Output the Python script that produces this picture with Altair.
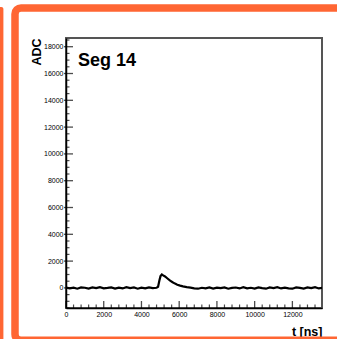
import altair as alt
import pandas as pd

# ---- data ----
t_ns = [0, 200, 400, 600, 800, 1000, 1200, 1400, 1600, 1800, 2000, 2200, 2400,
        2600, 2800, 3000, 3200, 3400, 3600, 3800, 4000, 4200, 4400, 4600, 4800,
        4880, 4950, 5010, 5080, 5150, 5250, 5380, 5520, 5650, 5780, 5900, 6050,
        6200, 6400,
        6600, 6800, 7000, 7200, 7400, 7600, 7800, 8000, 8200, 8400, 8600, 8800,
        9000, 9200, 9400, 9600, 9800, 10000, 10200, 10400, 10600, 10800, 11000,
        11200, 11400, 11600, 11800, 12000, 12200, 12400, 12600, 12800, 13000,
        13200, 13400, 13600]
adc = [30, -40, 20, -60, 40, 10, -50, 30, -20, 50, -30, 0, 40, -50, 20, -40,
       60, -10, 30, -60, 20, -30, 40, -20, 10,
       80, 550, 880, 1000, 930, 850, 700, 540, 420, 320, 240, 170, 110, 60,
       20, -30, -60, 10, -40, 30, -50, 20, -20, 40, -60, 0, 30, -40, 50, -30,
       10, -50, 40, -20, -60, 30, -10, 50, -40, 20, -30, -60, 40, 0, -50, 30,
       -20, 60, -40, 10]

x_major = [0, 2000, 4000, 6000, 8000, 10000, 12000]
x_minor = [400, 800, 1200, 1600, 2400, 2800, 3200, 3600, 4400,
           4800, 5200, 5600, 6400, 6800, 7200, 7600, 8400, 8800,
           9200, 9600, 10400, 10800, 11200, 11600, 12400, 12800, 13200]
y_major = [0, 2000, 4000, 6000, 8000, 10000, 12000, 14000, 16000, 18000]
y_minor = [-1500, -1000, -500, 500, 1000, 1500, 2500, 3000, 3500,
           4500, 5000, 5500, 6500, 7000, 7500, 8500, 9000, 9500,
           10500, 11000, 11500, 12500, 13000, 13500, 14500,
           15000, 15500, 16500, 17000, 17500, 18500]

x_domain = [0, 13570]
y_domain = [-1500, 18650]

panel_label = ["Seg 14"]
x_title = "t [ns]"
y_title = "ADC"

W, H = 256, 270
FONT = "Liberation Sans"
ORANGE = "#ff6633"
MAJ, MIN = 7, 3.5

# one table for the trace and for the tick positions
rows = [{"t": a, "adc": b, "kind": "trace"} for a, b in zip(t_ns, adc)]
rows += [{"t": x_domain[0], "adc": v, "kind": "ymaj"} for v in y_major]
rows += [{"t": x_domain[0], "adc": v, "kind": "ymin"} for v in y_minor]
rows += [{"t": v, "adc": y_domain[0], "kind": "xmaj"} for v in x_major]
rows += [{"t": v, "adc": y_domain[0], "kind": "xmin"} for v in x_minor]
df = pd.DataFrame(rows)

xs = alt.Scale(domain=x_domain, nice=False, zero=False)
ys = alt.Scale(domain=y_domain, nice=False, zero=False)

x_axis = alt.Axis(
    values=x_major, format="d", ticks=False, domain=True, domainColor="black",
    domainWidth=1.5, labelFont=FONT, labelFontSize=7, labelColor="black",
    labelPadding=2, labelFlush=False, grid=False,
    title=x_title, titleFont=FONT, titleFontSize=12.5, titleFontWeight="bold",
    titleColor="black", titleAnchor="end", titleAlign="right",
    titleX=W, titleY=27, titleBaseline="alphabetic")
y_axis = alt.Axis(
    values=y_major, format="d", ticks=False, domain=True, domainColor="black",
    domainWidth=1.5, labelFont=FONT, labelFontSize=7, labelColor="black",
    labelPadding=3, labelFlush=False, grid=False,
    title=y_title, titleFont=FONT, titleFontSize=12.5, titleFontWeight="bold",
    titleColor="black", titleAngle=-90, titleAlign="right",
    titleX=-26, titleY=0, titleBaseline="alphabetic")

X = alt.X("t:Q", scale=xs, axis=x_axis)
Y = alt.Y("adc:Q", scale=ys, axis=y_axis)

base = alt.Chart(df)
one = pd.DataFrame({"k": [0]})

# decorative orange frame
frame = alt.Chart(one).mark_rect(
    fill=None, stroke=ORANGE, strokeWidth=7.5, cornerRadius=6
).encode(
    x=alt.value(-51), x2=alt.value(300), y=alt.value(-30), y2=alt.value(302.3)
)
strip = alt.Chart(one).mark_rect(fill=ORANGE, cornerRadius=2).encode(
    x=alt.value(-70), x2=alt.value(-62.6), y=alt.value(-31), y2=alt.value(310)
)

main = base.transform_filter(alt.datum.kind == "trace").mark_line(
    color="black", strokeWidth=2.2, clip=True
).encode(x=X, y=Y)

# y ticks (mostly inside the frame)
ymaj = base.transform_filter(alt.datum.kind == "ymaj").mark_tick(
    color="black", thickness=1.3, size=9, orient="horizontal"
).encode(y=Y, x=alt.value(2.5))
ymin = base.transform_filter(alt.datum.kind == "ymin").mark_tick(
    color="black", thickness=1.2, size=MIN, orient="horizontal"
).encode(y=Y, x=alt.value(MIN / 2))

# x ticks (inside the frame, standing on the bottom edge)
xmaj = base.transform_filter(alt.datum.kind == "xmaj").mark_tick(
    color="black", thickness=1.3, size=MAJ, orient="vertical", yOffset=-MAJ / 2
).encode(x=X, y=Y)
xmin = base.transform_filter(alt.datum.kind == "xmin").mark_tick(
    color="black", thickness=1.2, size=MIN, orient="vertical", yOffset=-MIN / 2
).encode(x=X, y=Y)

label = alt.Chart(pd.DataFrame({"txt": panel_label})).mark_text(
    font=FONT, fontSize=18, fontWeight="bold", color="black",
    align="left", baseline="alphabetic"
).encode(x=alt.value(12), y=alt.value(28), text="txt:N")

chart = alt.layer(
    frame, strip, main, ymaj, ymin, xmaj, xmin, label,
).properties(
    width=W, height=H,
    autosize=alt.AutoSizeParams(type="none"),
    padding={"left": 66, "top": 38, "right": 15, "bottom": 31},
    background="white",
).configure_view(stroke="#555555", strokeWidth=2)

chart.save("out.html", embed_options={"renderer": "svg", "actions": False})
